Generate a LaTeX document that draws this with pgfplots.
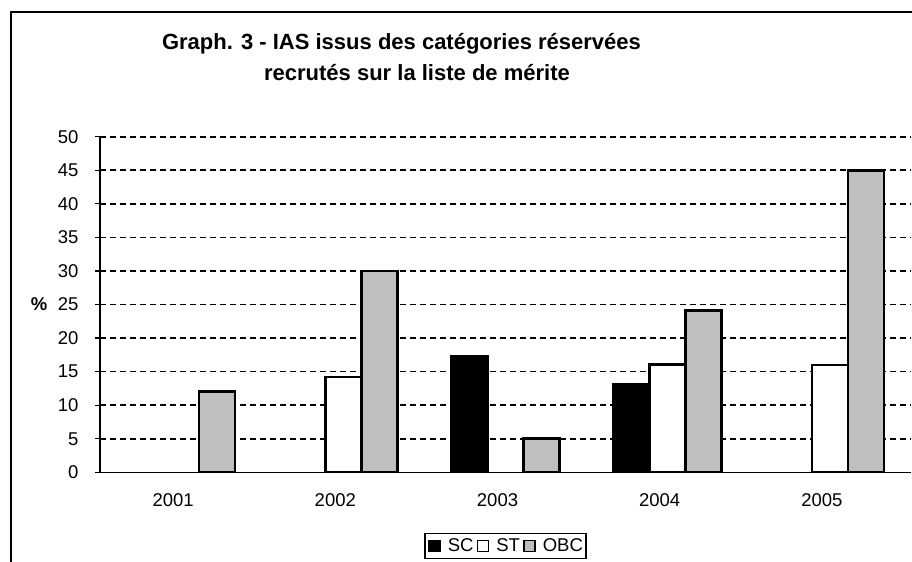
\documentclass[border=0pt]{standalone}
\usepackage{fontspec}
\setmainfont{Liberation Sans}
\usepackage{pgfplots}
\pgfplotsset{compat=1.18}
\begin{document}
\begin{tikzpicture}[x=1bp,y=1bp]
\path[use as bounding box] (0,0) rectangle (912,-562);
\draw[line width=2bp] (11,-562) -- (11,-12) -- (912,-12);
\node[font=\fontsize{22bp}{26bp}\selectfont\bfseries, anchor=base, inner sep=0pt] at (401.5,-49.3)
  {Graph. 3 - IAS issus des catégories réservées};
\node[font=\fontsize{22bp}{26bp}\selectfont\bfseries, anchor=base, inner sep=0pt] at (417,-81)
  {recrutés sur la liste de mérite};
\begin{axis}[
  at={(100bp,-472.3bp)}, anchor=south west,
  scale only axis, width=811bp, height=335.6bp,
  xmin=-0.5, xmax=4.5, ymin=0, ymax=50,
  ybar=0pt, bar width=36bp,
  xtick={0,...,4}, xticklabels={2001,2002,2003,2004,2005},
  minor xtick={-0.5,0.5,...,4.5},
  xtick style={draw=none},
  minor x tick style={line width=1.3bp, black},
  minor tick length=6bp,
  ytick={0,5,...,50},
  ytick align=center,
  y tick style={line width=1.3bp, black},
  major tick length=10bp,
  ymajorgrids,
  grid style={black, line width=1.6bp, dash pattern=on 6bp off 4bp},
  axis x line*=bottom, axis y line*=left,
  axis line style={-, line width=1.3bp, black},
  tick label style={font=\fontsize{18.5bp}{21bp}\selectfont},
  /pgf/number format/assume math mode=true,
  xticklabel style={yshift=-8bp, xshift=-8bp},
  yticklabel style={xshift=-13bp},
  ylabel={\textbf{\%}},
  ylabel style={rotate=-90, anchor=center, font=\fontsize{18.5bp}{21bp}\selectfont, at={(axis description cs:-0.0752,0.5)}},
  legend columns=3,
  legend style={at={(axis description cs:0.5,-0.2196)}, anchor=center, draw=black, line width=1.3bp,
    font=\fontsize{18.5bp}{21bp}\selectfont, inner xsep=3bp, inner ysep=2bp,
    /tikz/every odd column/.append style={column sep=7bp},
    /tikz/every even column/.append style={column sep=3bp},
    nodes={inner xsep=0bp, inner ysep=3bp}},
  legend image code/.code={\draw[#1, line width=1.8bp] (0bp,-5.5bp) rectangle (11bp,5.5bp);},
]
\addplot[fill=black, draw=black, line width=2.6bp] coordinates {(2,17.3) (3,13.1)};
\addplot[fill=white, draw=black, line width=2.6bp] coordinates {(1,14.2) (3,16.1) (4,16)};
\addplot[fill=black!25, draw=black, line width=2.6bp] coordinates {(0,12) (1,30) (2,5) (3,24.1) (4,45)};
\legend{SC,ST,OBC}
\end{axis}
\end{tikzpicture}
\end{document}
